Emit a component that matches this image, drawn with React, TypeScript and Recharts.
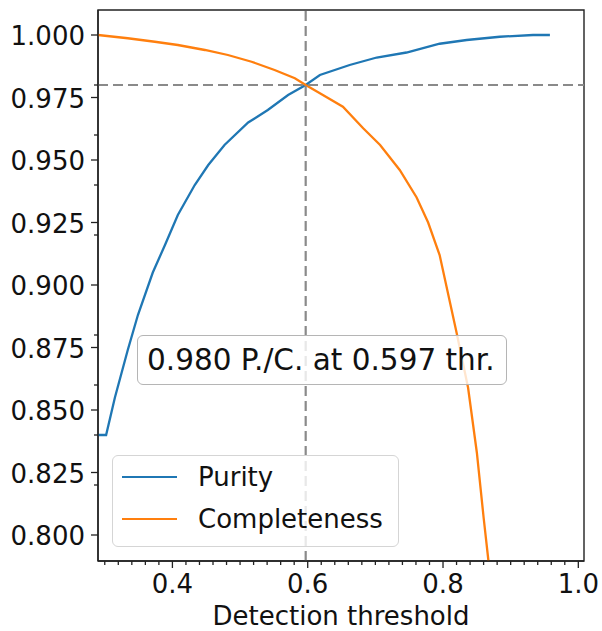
import { LineChart, Line, XAxis, YAxis, ReferenceLine, ReferenceArea, Legend } from 'recharts'

// threshold / value pairs
const purityThr = [0.290, 0.302, 0.315, 0.334, 0.349, 0.371, 0.389, 0.408, 0.433, 0.453, 0.477, 0.512, 0.541, 0.571, 0.597, 0.618, 0.662, 0.702, 0.746, 0.795, 0.835, 0.884, 0.933, 0.958]
const purityVal = [0.840, 0.840, 0.855, 0.874, 0.888, 0.905, 0.916, 0.928, 0.940, 0.948, 0.956, 0.965, 0.970, 0.976, 0.980, 0.984, 0.988, 0.991, 0.993, 0.9965, 0.998, 0.9993, 1.000, 1.000]

const complThr = [0.290, 0.334, 0.374, 0.408, 0.448, 0.482, 0.517, 0.551, 0.581, 0.597, 0.618, 0.652, 0.682, 0.707, 0.736, 0.761, 0.778, 0.795, 0.820, 0.837, 0.850, 0.860, 0.867, 0.878]
const complVal = [1.000, 0.9987, 0.9973, 0.996, 0.994, 0.992, 0.9893, 0.986, 0.9827, 0.980, 0.9767, 0.9713, 0.9627, 0.956, 0.946, 0.935, 0.925, 0.912, 0.881, 0.859, 0.833, 0.807, 0.790, 0.760]

const seriesNames = ['Purity', 'Completeness']

const crossThr = 0.597
const crossVal = 0.980

const xTicks = [0.30, 0.32, 0.34, 0.36, 0.38, 0.40, 0.42, 0.44, 0.46, 0.48, 0.50, 0.52, 0.54, 0.56, 0.58, 0.60, 0.62, 0.64, 0.66, 0.68, 0.70, 0.72, 0.74, 0.76, 0.78, 0.80, 0.82, 0.84, 0.86, 0.88, 0.90, 0.92, 0.94, 0.96, 0.98, 1.00]
const yTicks = [0.80, 0.82, 0.825, 0.84, 0.85, 0.86, 0.875, 0.88, 0.90, 0.92, 0.925, 0.94, 0.95, 0.96, 0.975, 0.98, 1.00]

const xDomain = [0.29, 1.0084]
const yDomain = [0.7896, 1.01]

const purityData = purityThr.map((t, i) => ({ t, v: purityVal[i] }))
const complData = complThr.map((t, i) => ({ t, v: complVal[i] }))

const FONT = '"DejaVu Sans", sans-serif'
const SPINE = '#222'

const isMult = (v: number, k: number) => Math.abs(v * k - Math.round(v * k)) < 1e-6

function XTick(props: any) {
    const { x, y, payload } = props
    const v = payload.value
    const major = isMult(v, 5)
    const len = major ? 7 : 4
    return (
        <g>
            <line x1={x} y1={y} x2={x} y2={y + len} stroke={SPINE} strokeWidth={1.3} />
            {major && (
                <text x={x} y={y + 32} textAnchor="middle" fontSize={26} fill="#111" style={{ fontFamily: FONT }}>
                    {v.toFixed(1)}
                </text>
            )}
        </g>
    )
}

function YTick(props: any) {
    const { x, y, payload } = props
    const v = payload.value
    const major = isMult(v, 40)
    const len = major ? 7 : 4
    return (
        <g>
            <line x1={x - len} y1={y} x2={x} y2={y} stroke={SPINE} strokeWidth={1.3} />
            {major && (
                <text x={x - 13} y={y + 10} textAnchor="end" fontSize={26} fill="#111" style={{ fontFamily: FONT }}>
                    {v.toFixed(3)}
                </text>
            )}
        </g>
    )
}

function LegendBox(props: any) {
    const payload = [...(props.payload || [])].sort(
        (a: any, b: any) => seriesNames.indexOf(a.value) - seriesNames.indexOf(b.value)
    )
    return (
        <div
            style={{
                boxSizing: 'border-box',
                width: 287,
                height: 92,
                border: '1.5px solid #d5d5d5',
                borderRadius: 6,
                background: 'rgba(255,255,255,0.8)',
                fontFamily: FONT,
                fontSize: 26,
                color: '#111',
            }}
        >
            {payload.map((p: any) => (
                <div key={p.value} style={{ display: 'flex', alignItems: 'center', height: 42, paddingLeft: 9 }}>
                    <span style={{ display: 'inline-block', width: 55, height: 2.5, background: p.color }} />
                    <span style={{ marginLeft: 21, lineHeight: 1.164 }}>{p.value}</span>
                </div>
            ))}
        </div>
    )
}

export default function App() {
    return (
        <div style={{ position: 'absolute', left: 0, top: 0, width: 602, height: 631, fontFamily: FONT, background: '#fff' }}>
            <LineChart width={602} height={631} margin={{ top: 10, right: 18, bottom: 0, left: 0 }}>
                <XAxis
                    dataKey="t"
                    type="number"
                    domain={xDomain}
                    allowDataOverflow
                    ticks={xTicks}
                    interval={0}
                    height={70}
                    tickSize={0}
                    tickMargin={0}
                    tickLine={false}
                    tick={<XTick />}
                    axisLine={{ stroke: SPINE, strokeWidth: 1.4 }}
                    label={{ value: 'Detection threshold', position: 'insideBottom', offset: 6, fontSize: 26, fill: '#111', style: { fontFamily: FONT } }}
                />
                <YAxis
                    type="number"
                    domain={yDomain}
                    allowDataOverflow
                    ticks={yTicks}
                    interval={0}
                    width={98}
                    tickSize={0}
                    tickMargin={0}
                    tickLine={false}
                    tick={<YTick />}
                    axisLine={{ stroke: SPINE, strokeWidth: 1.4 }}
                />
                <ReferenceArea
                    x1={xDomain[0]}
                    x2={xDomain[1]}
                    y1={yDomain[0]}
                    y2={yDomain[1]}
                    fill="none"
                    fillOpacity={0}
                    stroke={SPINE}
                    strokeWidth={1.4}
                    strokeOpacity={1}
                />
                <Line data={purityData} dataKey="v" name="Purity" type="linear" stroke="#1f77b4" strokeWidth={2.3} dot={false} isAnimationActive={false} />
                <Line data={complData} dataKey="v" name="Completeness" type="linear" stroke="#ff7f0e" strokeWidth={2.3} dot={false} isAnimationActive={false} />
                <ReferenceLine x={crossThr} stroke="#8a8a8a" strokeWidth={2.2} strokeDasharray="10 5" />
                <ReferenceLine y={crossVal} stroke="#8a8a8a" strokeWidth={2.2} strokeDasharray="10 5" />
                <Legend
                    layout="vertical"
                    align="center"
                    verticalAlign="middle"
                    content={<LegendBox />}
                    wrapperStyle={{ left: 112, top: 455, width: 287, height: 92 }}
                />
            </LineChart>
            <div
                style={{
                    position: 'absolute',
                    left: 137,
                    top: 335,
                    width: 370,
                    height: 50,
                    boxSizing: 'border-box',
                    border: '1.5px solid #b5b5b5',
                    borderRadius: 6,
                    background: 'rgba(255,255,255,0.8)',
                    display: 'flex',
                    alignItems: 'center',
                    paddingLeft: 9,
                    fontSize: 29.5,
                    color: '#111',
                    whiteSpace: 'nowrap',
                }}
            >
                {`${crossVal.toFixed(3)} P./C. at ${crossThr.toFixed(3)} thr.`}
            </div>
        </div>
    )
}
